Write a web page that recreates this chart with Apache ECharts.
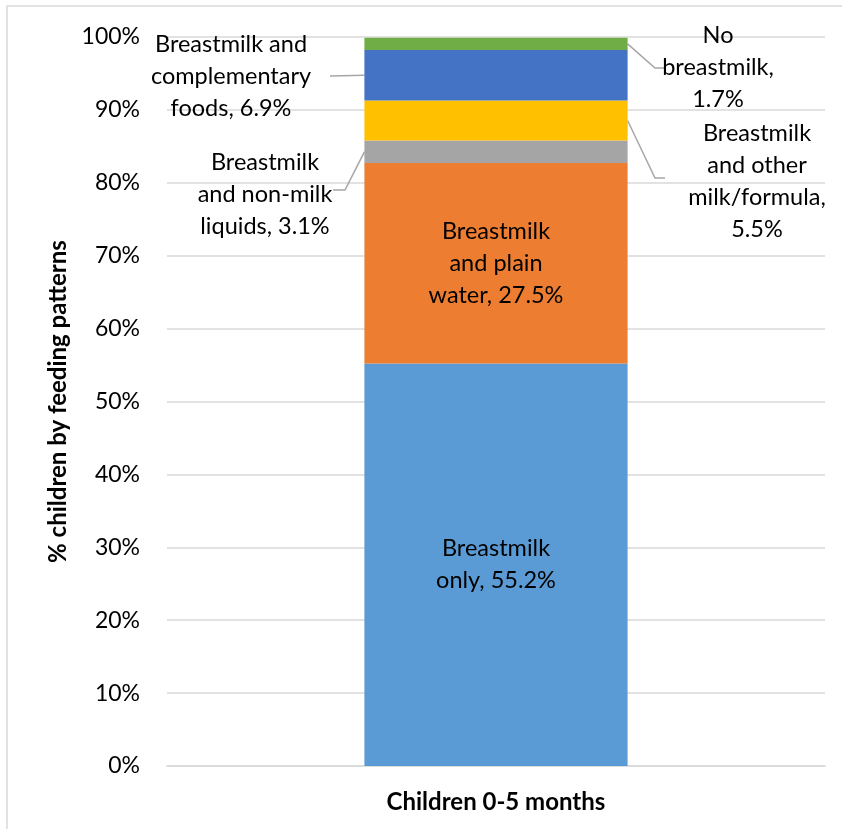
<!DOCTYPE html>
<html>
<head>
<meta charset="utf-8">
<script src="https://cdn.jsdelivr.net/npm/echarts@6/dist/echarts.min.js"></script>
<style>
  html, body { margin: 0; padding: 0; background: #fff; }
  #chart { width: 842px; height: 829px; }
</style>
</head>
<body>
<div id="chart"></div>
<script>
// Feeding patterns among children 0-5 months (stacked share, %)
const categories = ['Children 0-5 months'];
const seriesNames = [
  'Breastmilk only',
  'Breastmilk and plain water',
  'Breastmilk and non-milk liquids',
  'Breastmilk and other milk/formula',
  'Breastmilk and complementary foods',
  'No breastmilk'
];
const seriesValues = [55.2, 27.5, 3.1, 5.5, 6.9, 1.7];
const seriesColors = ['#5B9BD5', '#ED7D31', '#A5A5A5', '#FFC000', '#4472C4', '#70AD47'];
const yTicks = [0, 10, 20, 30, 40, 50, 60, 70, 80, 90, 100];

// Label line breaks per segment (text before the value)
const labelLines = [
  ['Breastmilk', 'only,'],
  ['Breastmilk', 'and plain', 'water,'],
  ['Breastmilk', 'and non-milk', 'liquids,'],
  ['Breastmilk', 'and other', 'milk/formula,'],
  ['Breastmilk and', 'complementary', 'foods,'],
  ['No', 'breastmilk,']
];

const FONT = 'Lato, "Open Sans", sans-serif';
const LABEL_SIZE = 23.5;

// Outside-label placement: side of the bar and label centre
const outside = {
  2: { side: 'left',  cx: 265, cy: 194, elbow: [345, 190], end: [333, 190] },
  3: { side: 'right', cx: 757, cy: 181, elbow: [655, 178], end: [665, 178] },
  4: { side: 'left',  cx: 231, cy: 76,  elbow: [330, 76],  end: [330, 76] },
  5: { side: 'right', cx: 718, cy: 67,  elbow: [655, 68],  end: [665, 68] }
};

function makeText(i, v) {
  const lines = labelLines[i].slice();
  const last = lines.length - 1;
  // value goes on the same line as the last word except where it wraps
  if (i === 3 || i === 5) lines.push(v.toFixed(1) + '%');
  else lines[last] = lines[last] + ' ' + v.toFixed(1) + '%';
  return lines.join('\n');
}

const series = seriesNames.map((name, i) => ({
  name: name,
  type: 'bar',
  stack: 'total',
  barWidth: '40%',
  itemStyle: { color: seriesColors[i] },
  data: [seriesValues[i]],
  label: {
    show: true,
    position: 'inside',
    formatter: p => makeText(i, p.value),
    color: '#000',
    fontFamily: FONT,
    fontSize: LABEL_SIZE,
    lineHeight: 32,
    align: 'center'
  },
  labelLayout: outside[i] ? {
    x: outside[i].cx,
    y: outside[i].cy,
    align: 'center',
    verticalAlign: 'middle'
  } : undefined
}));

const chart = echarts.init(document.getElementById('chart'), null, { renderer: 'canvas' });

const option = {
  backgroundColor: '#fff',
  animation: false,
  grid: { left: 167, right: 17, top: 37, bottom: 63, containLabel: false },
  xAxis: {
    type: 'category',
    data: categories,
    axisLine: { show: true, lineStyle: { color: '#D9D9D9', width: 1.5 } },
    axisTick: { show: false },
    axisLabel: {
      color: '#000',
      fontFamily: FONT,
      fontWeight: 'bold',
      fontSize: 24,
      margin: 24
    }
  },
  yAxis: {
    type: 'value',
    min: yTicks[0],
    max: yTicks[yTicks.length - 1],
    interval: yTicks[1] - yTicks[0],
    name: '% children by feeding patterns',
    nameLocation: 'middle',
    nameGap: 96,
    nameTextStyle: {
      color: '#000',
      fontFamily: FONT,
      fontWeight: 'bold',
      fontSize: 24
    },
    axisLine: { show: false },
    axisTick: { show: false },
    axisLabel: {
      formatter: v => v + '%',
      color: '#000',
      fontFamily: FONT,
      fontSize: 23,
      margin: 27
    },
    splitLine: { lineStyle: { color: '#D9D9D9', width: 1.5 } }
  },
  series: series
};

chart.setOption(option);

// Leader lines from the bar edge to the outside labels
function drawLeaders() {
  const cat = categories[0];
  const centerX = chart.convertToPixel({ xAxisIndex: 0 }, cat);
  const plotW = chart.getWidth() - 167 - 17;
  const barHalf = plotW * 0.4 / 2;
  const leftX = centerX - barHalf;
  const rightX = centerX + barHalf;
  let cum = 0;
  const graphics = [
    {
      type: 'rect',
      shape: { x: 7, y: 6, width: 900, height: 900 },
      style: { fill: 'none', stroke: '#D9D9D9', lineWidth: 1.5 },
      silent: true
    }
  ];
  seriesValues.forEach((v, i) => {
    const mid = cum + v / 2;
    cum += v;
    const o = outside[i];
    if (!o) return;
    const y = chart.convertToPixel({ yAxisIndex: 0 }, mid);
    const x = o.side === 'left' ? leftX : rightX;
    graphics.push({
      type: 'polyline',
      shape: { points: [[x, y], o.elbow, o.end] },
      style: { stroke: '#A6A6A6', lineWidth: 1.5, fill: 'none' },
      silent: true
    });
  });
  chart.setOption({ graphic: graphics });
}
drawLeaders();
</script>
</body>
</html>
